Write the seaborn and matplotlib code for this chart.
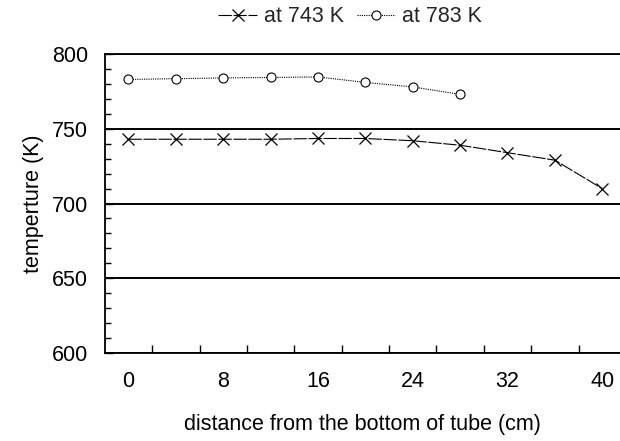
import numpy as np
import pandas as pd
import seaborn as sns
import matplotlib.pyplot as plt
from matplotlib.ticker import FixedLocator, MultipleLocator

distance_743 = [0, 4, 8, 12, 16, 20, 24, 28, 32, 36, 40]
temp_743 = [743, 743, 743, 743, 743.5, 743.5, 742, 739, 734, 729, 710]
distance_783 = [0, 4, 8, 12, 16, 20, 24, 28]
temp_783 = [783, 783.5, 784, 784.3, 784.7, 781, 778, 773]
x_labels = [0, 8, 16, 24, 32, 40]
y_ticks = [600, 650, 700, 750, 800]

sns.set_theme(style="white")
plt.rcParams["font.family"] = ["Liberation Sans", "DejaVu Sans"]
FS = 15.5

fig = plt.figure(figsize=(6.2, 4.41), dpi=100)
ax = fig.add_axes([0.169, 0.1995, 0.831, 0.678])

sns.lineplot(x=distance_743, y=temp_743, ax=ax, color="black", lw=0.8,
             linestyle=(0, (12, 1.5)), marker="x", markersize=8, mec="black",
             mew=0.9, label="at 743 K")
sns.lineplot(x=distance_783, y=temp_783, ax=ax, color="black", lw=0.8,
             linestyle=(0, (1, 1)), marker="o", markersize=6.5, mfc="white",
             mec="black", mew=0.8, label="at 783 K")

ax.set_xlim(-2, 41.5)
ax.set_ylim(600, 800)

ax.xaxis.set_major_locator(FixedLocator(x_labels))
ax.set_xticklabels([str(v) for v in x_labels])
ax.xaxis.set_minor_locator(FixedLocator(np.arange(2, 41, 4)))
ax.tick_params(axis="x", which="major", length=0, pad=13, labelsize=FS)
ax.tick_params(axis="x", which="minor", direction="in", length=6, width=1,
               color="black", bottom=True)

ax.yaxis.set_major_locator(FixedLocator(y_ticks))
ax.yaxis.set_minor_locator(MultipleLocator(10))
ax.tick_params(axis="y", which="major", direction="in", length=6, width=1,
               color="black", left=True, pad=12, labelsize=FS)
ax.tick_params(axis="y", which="minor", direction="in", length=4, width=1,
               color="black", left=True)
ax.yaxis.grid(True, which="major", color="black", lw=1.4)
ax.xaxis.grid(False)

for s in ["left", "bottom", "top"]:
    ax.spines[s].set_visible(True)
    ax.spines[s].set_color("black")
    ax.spines[s].set_linewidth(1.3)
ax.spines["right"].set_visible(False)

ax.set_xlabel("distance from the bottom of tube (cm)", fontsize=FS, labelpad=16, color="black")
ax.set_ylabel("temperture (K)", fontsize=FS, labelpad=6, color="black")
ax.tick_params(colors="black", which="both")

ax.legend(loc="center", bbox_to_anchor=(0.476, 1.125), ncol=2, frameon=False,
          fontsize=FS, handlelength=1.8, columnspacing=0.6, handletextpad=0.3)

fig.savefig("out.png", dpi=100)
